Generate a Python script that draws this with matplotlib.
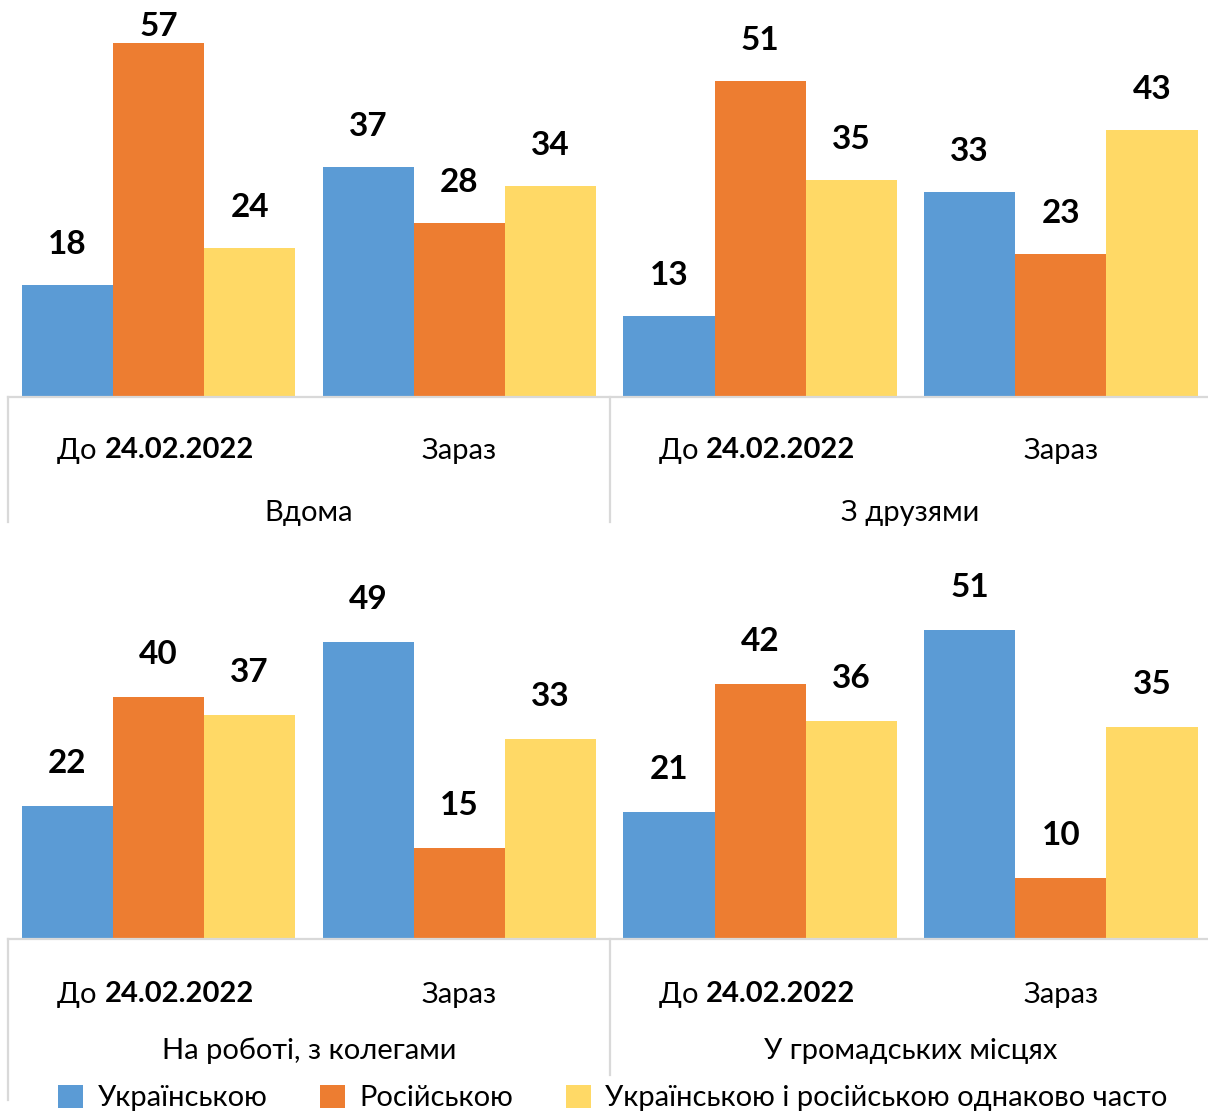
import matplotlib.pyplot as plt
from matplotlib.patches import Patch

plt.rcParams['font.family'] = ['Lato', 'DejaVu Sans']

groups = ["Вдома", "З друзями", "На роботі, з колегами", "У громадських місцях"]
periods = ["До 24.02.2022", "Зараз"]
series = ["Українською", "Російською", "Українською і російською однаково часто"]
colors = ["#5B9BD5", "#ED7D31", "#FFD966"]

# values per panel: [period][series]
vdoma = [[18, 57, 24], [37, 28, 34]]
druzi = [[13, 51, 35], [33, 23, 43]]
robota = [[22, 40, 37], [49, 15, 33]]
gromada = [[21, 42, 36], [51, 10, 35]]

W, H = 1208, 1113
fig = plt.figure(figsize=(W / 100, H / 100), dpi=100)

grey = "#D9D9D9"
bw = 0.303
ymax = 64
fs = 21


def panel(rect, left_data, right_data, glabels, y_lab1, y_lab2, line_l, line_m, pad_px):
    ax = fig.add_axes(rect)
    h_px = rect[3] * H
    unit = h_px / ymax
    data = left_data + right_data
    for i, vals in enumerate(data):
        for j, v in enumerate(vals):
            x = i + (j - 1) * bw
            ax.bar(x, v, width=bw, color=colors[j], linewidth=0)
            # excel style: label above bar, pushed down if near the top edge
            ly = min(v + pad_px / unit, ymax - 24 / unit)
            ax.text(x, ly, str(v), ha="center", va="center_baseline",
                    fontsize=24, fontweight="bold")
    ax.set_xlim(-0.5, 3.5)
    ax.set_ylim(0, ymax)
    for s in ["top", "right", "left"]:
        ax.spines[s].set_visible(False)
    ax.spines["bottom"].set_color(grey)
    ax.spines["bottom"].set_linewidth(1.6)
    ax.set_xticks([])
    ax.set_yticks([])
    tr = ax.get_xaxis_transform()
    for i in range(4):
        if i % 2 == 0:
            split = i - 0.18
            ax.text(split, y_lab1, "До ", transform=tr, ha="right",
                    va="center_baseline", fontsize=fs)
            ax.text(split, y_lab1, periods[0][3:], transform=tr, ha="left",
                    va="center_baseline", fontsize=fs, fontweight="bold")
        else:
            ax.text(i, y_lab1, periods[1], transform=tr, ha="center",
                    va="center_baseline", fontsize=fs)
    for k, g in enumerate(glabels):
        ax.text(0.5 + 2 * k, y_lab2, g, transform=tr, ha="center",
                va="center_baseline", fontsize=fs)
    ax.plot([-0.5, -0.5], [0, line_l], transform=tr, color=grey, lw=1.6, clip_on=False)
    ax.plot([1.5, 1.5], [0, line_m], transform=tr, color=grey, lw=1.6, clip_on=False)
    return ax


ax_w = 1203 / W
top_h = 397 / H
panel([8.2 / W, (H - 397) / H, ax_w, top_h], vdoma, druzi, groups[:2],
      -51 / 397, -113 / 397, -125 / 397, -125 / 397, 43)
bot_h = 388 / H
panel([8.2 / W, (H - 939) / H, ax_w, bot_h], robota, gromada, groups[2:],
      -53 / 388, -109 / 388, -161 / 388, -136 / 388, 45)

handles = [Patch(facecolor=c, edgecolor="none") for c in colors]
fig.legend(handles, series, loc="lower center", bbox_to_anchor=(613 / W, -0.022),
           ncol=3, frameon=False, fontsize=fs, handlelength=0.85, handleheight=0.85,
           handletextpad=0.5, columnspacing=1.8)

fig.savefig("out.png", dpi=100)
